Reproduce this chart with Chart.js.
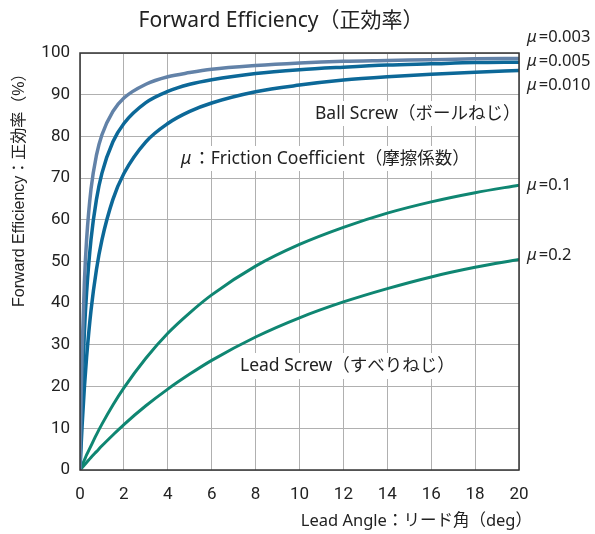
<!DOCTYPE html>
<html lang="ja">
<head>
<meta charset="UTF-8">
<title>Forward Efficiency</title>
<script src="https://cdn.jsdelivr.net/npm/chart.js"></script>
<style>
  body { margin: 0; background: #fff; }
  canvas { display: block; }
</style>
</head>
<body>
<canvas id="grafico" width="595" height="534"></canvas>
<script>
// lead angle (deg) and efficiency (%)
const leadAngle = [0, 0.05, 0.1, 0.2, 0.3, 0.5, 0.75, 1, 1.5, 2, 3, 4, 5, 6, 8, 10, 12, 14, 16, 18, 20];
const eff003 = [0, 17.1, 29.1, 45.1, 55.2, 67.3, 75.5, 80.4, 86.0, 89.2, 92.5, 94.3, 95.3, 96.1, 97.0, 97.6, 98.0, 98.2, 98.4, 98.6, 98.7];
const eff005 = [0, 11.0, 19.8, 33.1, 42.5, 55.2, 64.9, 71.2, 78.7, 83.1, 88.1, 90.8, 92.5, 93.6, 95.1, 96.0, 96.6, 97.1, 97.4, 97.7, 97.8];
const eff010 = [0, 5.8, 11.0, 19.8, 27.0, 38.2, 48.1, 55.2, 64.9, 71.1, 78.7, 83.1, 86.0, 88.0, 90.7, 92.3, 93.5, 94.3, 94.9, 95.4, 95.8];
const eff01 = [0, 0.6, 1.2, 2.4, 3.6, 5.8, 8.5, 11.0, 15.6, 19.7, 26.8, 32.8, 37.7, 42.0, 48.9, 54.1, 58.2, 61.6, 64.3, 66.5, 68.3];
const eff02 = [0, 0.3, 0.6, 1.2, 1.8, 3.0, 4.4, 5.8, 8.4, 10.9, 15.4, 19.4, 23.0, 26.3, 31.9, 36.5, 40.3, 43.5, 46.3, 48.6, 50.5];

const xTicks = [0, 2, 4, 6, 8, 10, 12, 14, 16, 18, 20];
const yTicks = [0, 10, 20, 30, 40, 50, 60, 70, 80, 90, 100];

const seriesNames = ['μ=0.003', 'μ=0.005', 'μ=0.010', 'μ=0.1', 'μ=0.2'];
const seriesData = [eff003, eff005, eff010, eff01, eff02];
const cores = ['#6282a8', '#0c6898', '#0c6898', '#0f8672', '#0f8672'];
const larguras = [3.5, 3.5, 3.5, 3, 3];

const fonteJP = '"Noto Sans", "Noto Sans CJK JP", sans-serif';

function pontos(valores) {
    return leadAngle.map(function (x, i) { return { x: x, y: valores[i] }; });
}

// texto com μ em itálico
function textoMu(ctx, resto, x, y, tamanho) {
    ctx.font = 'italic ' + tamanho + 'px "Noto Sans", sans-serif';
    ctx.fillText('μ', x, y);
    const w = ctx.measureText('μ').width;
    ctx.font = tamanho + 'px ' + fonteJP;
    ctx.fillText(resto, x + w + 2, y);
}

const caixas = [
    { x: 312, y: 101, w: 205, h: 25 },
    { x: 177, y: 146, w: 297, h: 25 },
    { x: 237, y: 353, w: 211, h: 26 }
];

const textosPlugin = {
    id: 'textos',
    beforeDatasetsDraw(chart) {
        const ctx = chart.ctx;
        ctx.save();
        ctx.fillStyle = '#fff';
        caixas.forEach(function (c) { ctx.fillRect(c.x, c.y, c.w, c.h); });
        ctx.restore();
    },
    afterDraw(chart) {
        const ctx = chart.ctx;
        const a = chart.chartArea;
        ctx.save();
        // moldura
        ctx.strokeStyle = '#333';
        ctx.lineWidth = 1.5;
        ctx.strokeRect(a.left, a.top, a.right - a.left, a.bottom - a.top);

        ctx.fillStyle = '#222';
        ctx.textBaseline = 'middle';

        // título
        ctx.textAlign = 'center';
        ctx.font = '21px ' + fonteJP;
        ctx.fillText('Forward Efficiency（正効率）', 281, 21);

        // títulos dos eixos
        ctx.textAlign = 'right';
        ctx.font = '16.5px ' + fonteJP;
        ctx.fillText('Lead Angle：リード角（deg）', 532, 521);

        ctx.save();
        ctx.translate(20, 307);
        ctx.rotate(-Math.PI / 2);
        ctx.textAlign = 'left';
        ctx.font = '16px "Liberation Sans", "Noto Sans CJK JP", sans-serif';
        ctx.fillText('Forward Efficiency：正効率（%）', 0, 0);
        ctx.restore();

        // rótulos dentro do gráfico
        ctx.textAlign = 'left';
        ctx.font = '17.5px ' + fonteJP;
        ctx.fillText('Ball Screw（ボールねじ）', 315, 114);
        ctx.fillText('Lead Screw（すべりねじ）', 240, 366);
        textoMu(ctx, '：Friction Coefficient（摩擦係数）', 181, 159, 17.5);

        // rótulos das curvas à direita
        const ys = [37, 61, 85, 185, 255];
        seriesNames.forEach(function (nome, i) {
            textoMu(ctx, nome.slice(1), 527, ys[i], 16.5);
        });
        ctx.restore();
    }
};

const datasets = seriesNames.map(function (nome, i) {
    return {
        label: nome,
        data: pontos(seriesData[i]),
        borderColor: cores[i],
        borderWidth: larguras[i],
        pointRadius: 0,
        fill: false,
        cubicInterpolationMode: 'monotone'
    };
});

new Chart(document.getElementById('grafico'), {
    type: 'line',
    data: { datasets: datasets },
    options: {
        responsive: false,
        animation: false,
        devicePixelRatio: 1,
        layout: { padding: { left: 0, right: 76, top: 53, bottom: 0 } },
        plugins: {
            legend: { display: false },
            tooltip: { enabled: false }
        },
        scales: {
            x: {
                type: 'linear',
                min: 0,
                max: 20,
                afterFit: function (s) { s.height = 64; },
                afterBuildTicks: function (s) { s.ticks = xTicks.map(function (v) { return { value: v }; }); },
                grid: { color: '#b0b0b0', lineWidth: 1, drawTicks: false },
                border: { display: false },
                ticks: { padding: 15, color: '#222', font: { family: 'Roboto', size: 17 }, maxRotation: 0 }
            },
            y: {
                min: 0,
                max: 100,
                afterFit: function (s) { s.width = 80; },
                afterBuildTicks: function (s) { s.ticks = yTicks.map(function (v) { return { value: v }; }); },
                grid: { color: '#b0b0b0', lineWidth: 1, drawTicks: false },
                border: { display: false },
                ticks: { padding: 10, color: '#222', font: { family: 'Roboto', size: 17 } }
            }
        }
    },
    plugins: [textosPlugin]
});
</script>
</body>
</html>
